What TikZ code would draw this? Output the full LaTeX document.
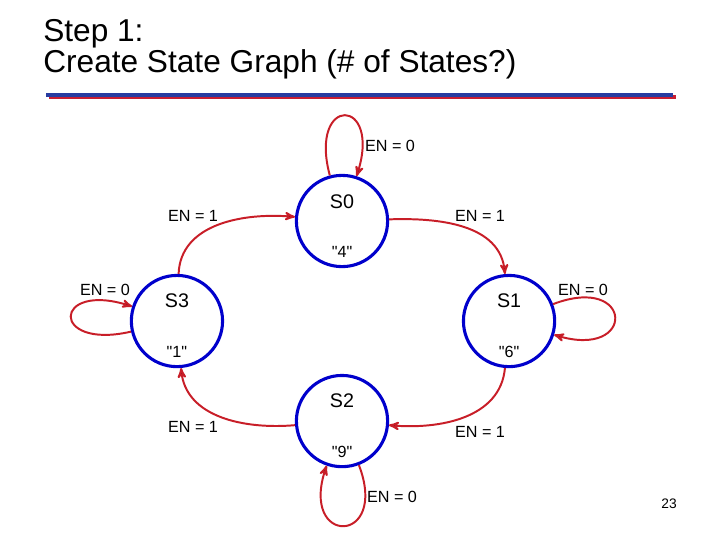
\documentclass[tikz,border=0pt]{standalone}
\usepackage{fontspec}
\setmainfont{Liberation Sans}
\newfontfamily\plainquote{Liberation Sans}
\usetikzlibrary{automata,arrows,positioning}
\definecolor{stateblue}{RGB}{0,0,204}
\definecolor{edgered}{RGB}{200,30,40}
\definecolor{rulered}{RGB}{200,30,50}
\definecolor{ruleblue}{RGB}{40,60,160}

\begin{document}
\begin{tikzpicture}[x=0.025cm, y=-0.025cm, ->, >=stealth', auto, on grid, node distance=2.5cm and 4.15cm]
	\tikzstyle{every state}=[fill=white,draw=stateblue,line width=2.2pt,minimum size=2.28cm,inner sep=0pt]
	\tikzstyle{trans}=[draw=edgered,line width=1.4pt]
	\tikzstyle{cond}=[font=\fontsize{11.5}{13}\selectfont,inner sep=0pt]
	\tikzstyle{outval}=[font=\plainquote\fontsize{11.5}{13}\selectfont,inner sep=0pt]
	\tikzstyle{sname}=[font=\fontsize{14}{16}\selectfont,inner sep=0pt]
	\useasboundingbox (0,0) rectangle (720,540);

	% title and rule
	\node[anchor=base west,font=\fontsize{22.5}{27}\selectfont,inner sep=0pt] (step) at (43,41) {Step 1:};
	\node[anchor=base west,font=\fontsize{22.5}{27}\selectfont,inner sep=0pt] (title) at (43,72) {Create State Graph (\# of States?)};
	\draw[-,rulered,line width=2.2pt] (49,97) -- (676,97);
	\draw[-,ruleblue,line width=2.2pt] (46,95) -- (673,95);

	% states
	\node[state]    (s0) at (342,221)                {};
	\node[state]    (s3) [below left=2.5cm and 4.125cm of s0]  {};
	\node[state]    (s1) [below right=2.5cm and 4.175cm of s0] {};
	\node[state]    (s2) [below=5cm of s0]           {};

	\node[sname] (s0name) at ([yshift=0.48cm]s0) {S0};
	\node[sname] (s3name) at ([yshift=0.5cm]s3)  {S3};
	\node[sname] (s1name) at ([yshift=0.5cm]s1)  {S1};
	\node[sname] (s2name) at ([yshift=0.5cm]s2)  {S2};
	\node[outval] (s0out) at ([yshift=-0.78cm]s0) {"4"};
	\node[outval] (s3out) at ([yshift=-0.78cm]s3) {"1"};
	\node[outval] (s1out) at ([yshift=-0.78cm]s1) {"6"};
	\node[outval] (s2out) at ([yshift=-0.78cm]s2) {"9"};

	\path[trans] % transitions
	(s0) edge[out=105, in=72, looseness=8]    (s0)
	(s3) edge[out=88, in=175]                 (s0)
	(s0) edge[out=2, in=95]                   (s1)
	(s1) edge[out=21, in=-17, looseness=7.2]  (s1)
	(s1) edge[out=-95, in=-5]                 (s2)
	(s2) edge[out=-69, in=-109, looseness=6.8](s2)
	(s2) edge[out=185, in=-85]                (s3)
	(s3) edge[out=193, in=162, looseness=8.5] (s3);

	% conditions
	\node[cond] (c00) at (390,146) {EN = 0};
	\node[cond] (c30) at (193,216) {EN = 1};
	\node[cond] (c01) at (480,216) {EN = 1};
	\node[cond] (c33) at (105,290) {EN = 0};
	\node[cond] (c11) at (583,290) {EN = 0};
	\node[cond] (c23) at (193,427) {EN = 1};
	\node[cond] (c12) at (480,432) {EN = 1};
	\node[cond] (c22) at (392,497) {EN = 0};

	\node[font=\fontsize{9.8}{12}\selectfont,inner sep=0pt] (page) at (669,504) {23};
\end{tikzpicture}
\end{document}
